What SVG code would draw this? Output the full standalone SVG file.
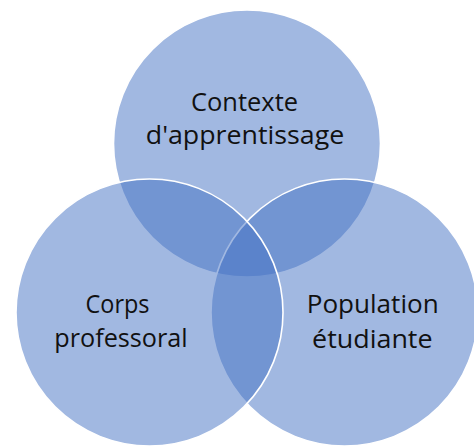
<svg xmlns="http://www.w3.org/2000/svg" width="474" height="446" viewBox="0 0 474 446">
  <style>
    .c { fill: #4472C4; fill-opacity: 0.5; stroke: #ffffff; stroke-width: 1.6; }
    .t { font-family: "Open Sans", Lato, "Liberation Sans", sans-serif; font-size: 25px; fill: #111111; text-anchor: middle; }
  </style>
  <rect width="474" height="446" fill="#ffffff"/>
  <g id="contexte">
    <circle class="c" cx="247" cy="143.5" r="133.5"/>
    <text class="t" x="244.5" y="111" textLength="107" lengthAdjust="spacingAndGlyphs">Contexte</text>
    <text class="t" x="245" y="143.5" textLength="198.5" lengthAdjust="spacingAndGlyphs">d'apprentissage</text>
  </g>
  <g id="population">
    <circle class="c" cx="344.5" cy="312.5" r="133.5"/>
    <text class="t" x="372.7" y="313" textLength="132" lengthAdjust="spacingAndGlyphs">Population</text>
    <text class="t" x="372.3" y="347.5" textLength="120.5" lengthAdjust="spacingAndGlyphs">étudiante</text>
  </g>
  <g id="corps">
    <circle class="c" cx="149.5" cy="312.5" r="133.5"/>
    <text class="t" x="117.5" y="313" textLength="64" lengthAdjust="spacingAndGlyphs">Corps</text>
    <text class="t" x="121" y="347" textLength="133.5" lengthAdjust="spacingAndGlyphs">professoral</text>
  </g>
  <g id="connectors"/>
</svg>
